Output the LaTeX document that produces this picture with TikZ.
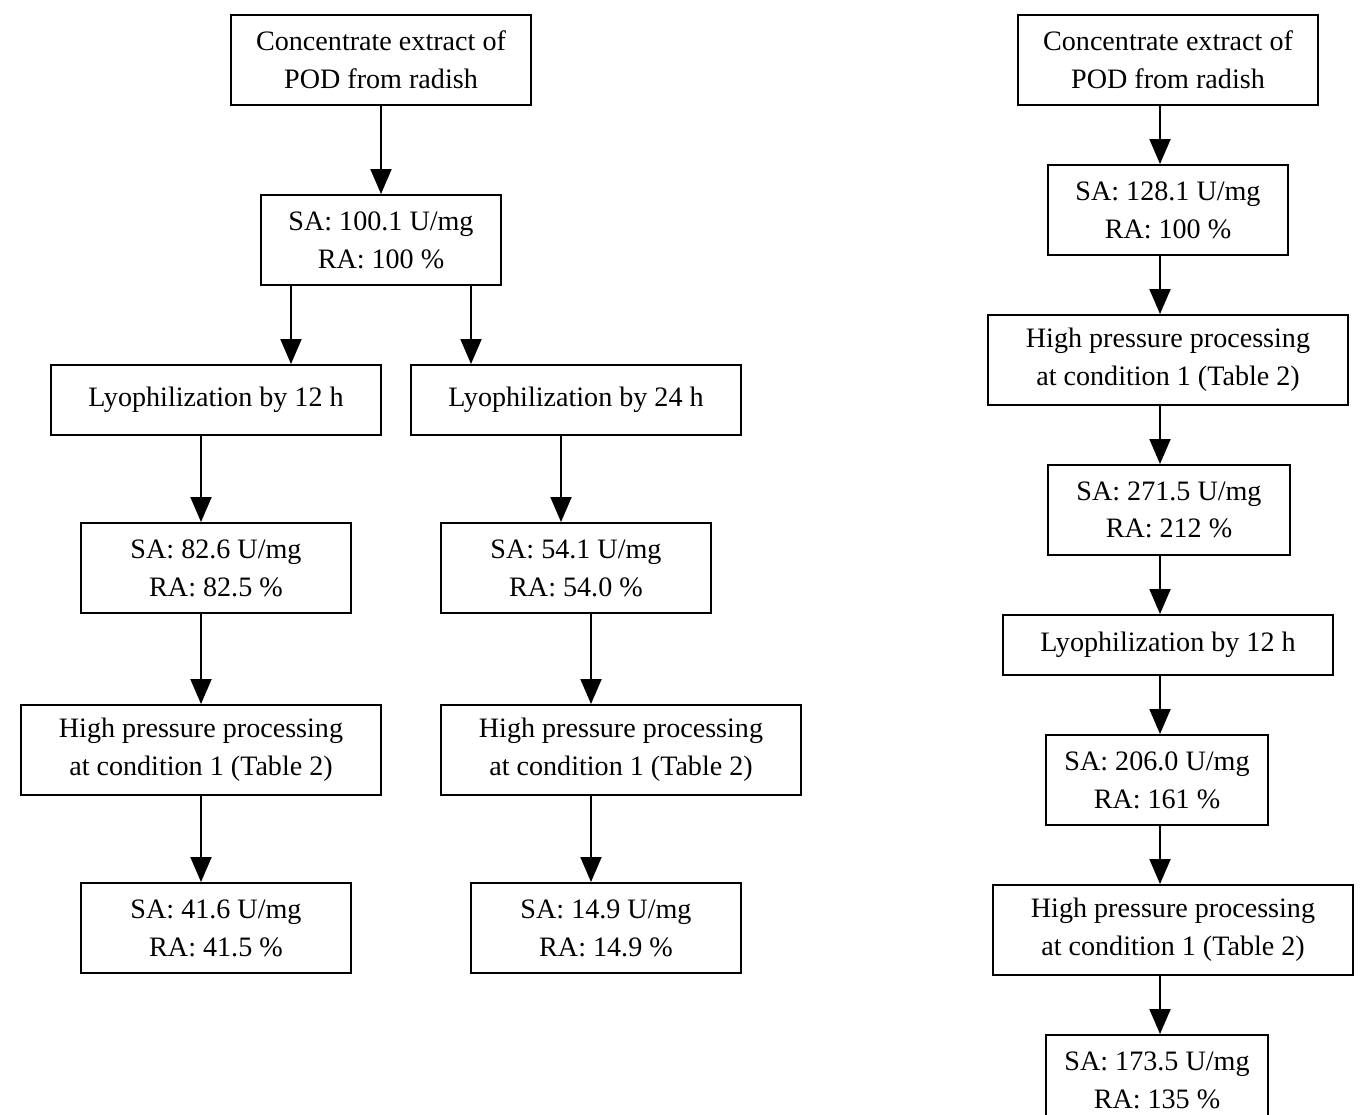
\documentclass[tikz,border=0pt]{standalone}
\usepackage{fontspec}
\setmainfont{Liberation Serif}
\usetikzlibrary{arrows.meta}
\tikzset{
  box/.style={draw, line width=1.1pt, align=center, inner sep=0pt,
    font=\fontsize{16}{21.5}\selectfont},
  arr/.style={line width=1.1pt, -{Triangle[length=0.5cm,width=0.42cm]}}
}
\begin{document}
\begin{tikzpicture}[x=0.02cm, y=-0.02cm]
        \useasboundingbox (0,0) rectangle (1369,1115);
        \clip (0,0) rectangle (1369,1115);

        %Left flow
        \node [box, minimum width=6cm, minimum height=1.8cm]   (cA) at (381,60)  {Concentrate extract of\\POD from radish};
        \node [box, minimum width=4.8cm, minimum height=1.8cm] (sA) at (381,240) {SA: 100.1 U/mg\\RA: 100 \%};
        \node [box, minimum width=6.6cm, minimum height=1.4cm] (ly1) at (216,400) {Lyophilization by 12 h};
        \node [box, minimum width=6.6cm, minimum height=1.4cm] (ly2) at (576,400) {Lyophilization by 24 h};
        \node [box, minimum width=5.4cm, minimum height=1.8cm] (sB1) at (216,568) {SA: 82.6 U/mg\\RA: 82.5 \%};
        \node [box, minimum width=5.4cm, minimum height=1.8cm] (sB2) at (576,568) {SA: 54.1 U/mg\\RA: 54.0 \%};
        \node [box, minimum width=7.2cm, minimum height=1.8cm] (hp1) at (201,750) {High pressure processing\\at condition 1 (Table 2)};
        \node [box, minimum width=7.2cm, minimum height=1.8cm] (hp2) at (621,750) {High pressure processing\\at condition 1 (Table 2)};
        \node [box, minimum width=5.4cm, minimum height=1.8cm] (sC1) at (216,928) {SA: 41.6 U/mg\\RA: 41.5 \%};
        \node [box, minimum width=5.4cm, minimum height=1.8cm] (sC2) at (606,928) {SA: 14.9 U/mg\\RA: 14.9 \%};

        \draw [arr] (cA) -- (sA);
        \draw [arr] ([xshift=-1.8cm]sA.south) -- ([xshift=1.5cm]ly1.north);
        \draw [arr] ([xshift=1.8cm]sA.south)  -- ([xshift=-2.1cm]ly2.north);
        \draw [arr] ([xshift=-0.3cm]ly1.south) -- ([xshift=-0.3cm]sB1.north);
        \draw [arr] ([xshift=-0.3cm]ly2.south) -- ([xshift=-0.3cm]sB2.north);
        \draw [arr] ([xshift=-0.3cm]sB1.south) -- (hp1);
        \draw [arr] ([xshift=0.3cm]sB2.south)  -- ([xshift=-0.6cm]hp2.north);
        \draw [arr] (hp1) -- ([xshift=-0.3cm]sC1.north);
        \draw [arr] ([xshift=-0.6cm]hp2.south) -- ([xshift=-0.3cm]sC2.north);

        %Right flow
        \node [box, minimum width=6cm, minimum height=1.8cm]   (r1) at (1168,60)  {Concentrate extract of\\POD from radish};
        \node [box, minimum width=4.8cm, minimum height=1.8cm] (r2) at (1168,210) {SA: 128.1 U/mg\\RA: 100 \%};
        \node [box, minimum width=7.2cm, minimum height=1.8cm] (r3) at (1168,360) {High pressure processing\\at condition 1 (Table 2)};
        \node [box, minimum width=4.84cm, minimum height=1.8cm] (r4) at (1169,510) {SA: 271.5 U/mg\\RA: 212 \%};
        \node [box, minimum width=6.6cm, minimum height=1.2cm] (r5) at (1168,645) {Lyophilization by 12 h};
        \node [box, minimum width=4.44cm, minimum height=1.8cm] (r6) at (1157,780) {SA: 206.0 U/mg\\RA: 161 \%};
        \node [box, minimum width=7.2cm, minimum height=1.8cm] (r7) at (1173,930) {High pressure processing\\at condition 1 (Table 2)};
        \node [box, minimum width=4.44cm, minimum height=1.8cm] (r8) at (1157,1080) {SA: 173.5 U/mg\\RA: 135 \%};

        \draw [arr] ([xshift=-0.16cm]r1.south) -- ([xshift=-0.16cm]r2.north);
        \draw [arr] ([xshift=-0.16cm]r2.south) -- ([xshift=-0.16cm]r3.north);
        \draw [arr] ([xshift=-0.16cm]r3.south) -- ([xshift=-0.18cm]r4.north);
        \draw [arr] ([xshift=-0.18cm]r4.south) -- ([xshift=-0.16cm]r5.north);
        \draw [arr] ([xshift=-0.16cm]r5.south) -- ([xshift=0.06cm]r6.north);
        \draw [arr] ([xshift=0.06cm]r6.south)  -- ([xshift=-0.26cm]r7.north);
        \draw [arr] ([xshift=-0.26cm]r7.south) -- ([xshift=0.06cm]r8.north);
\end{tikzpicture}
\end{document}
